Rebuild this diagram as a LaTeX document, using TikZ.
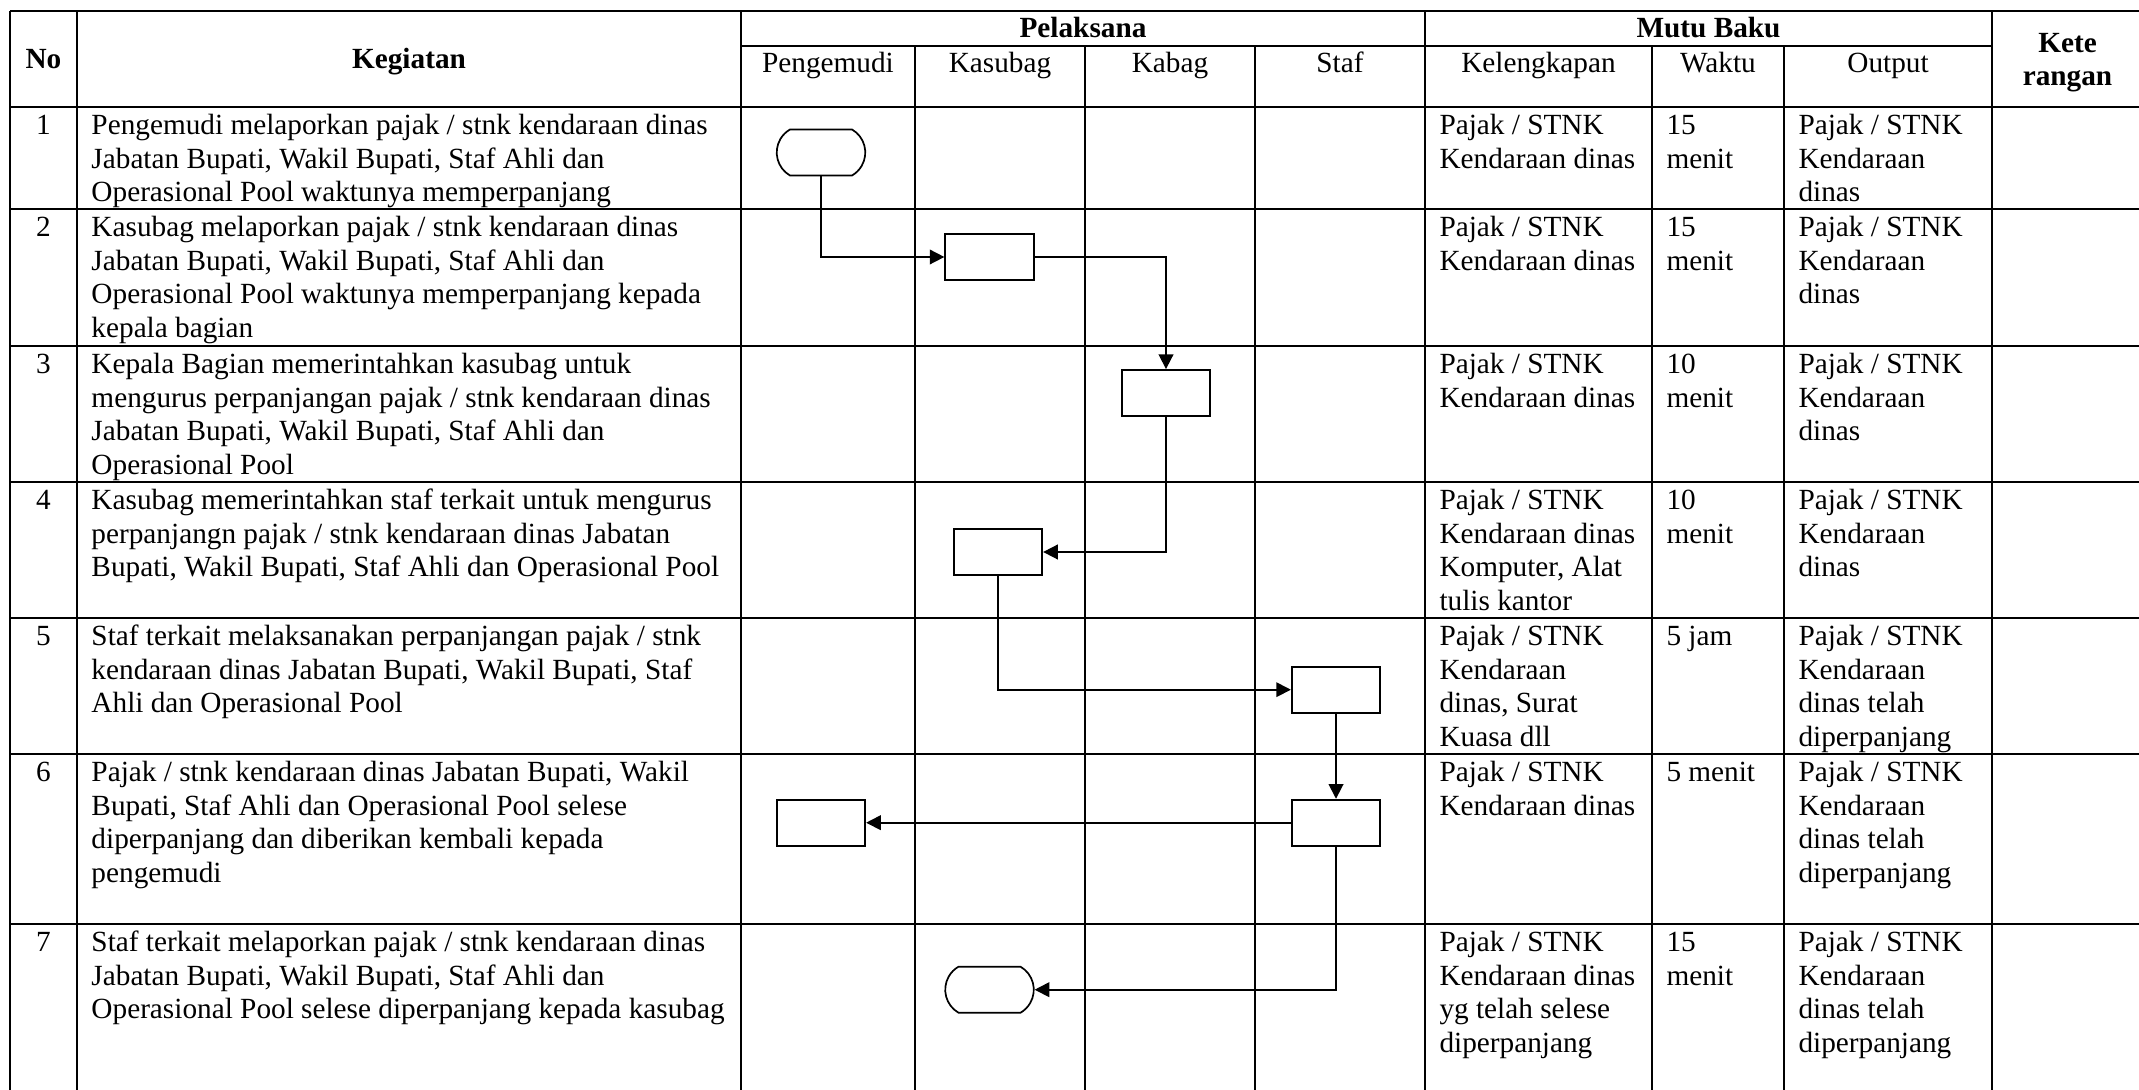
\documentclass[tikz,border=0pt]{standalone}
\usepackage{fontspec}
\setmainfont{Liberation Serif}
\usetikzlibrary{arrows.meta,shapes.misc}
\tikzstyle{garis} = [line width=1pt]
\tikzstyle{judul} = [font=\fontsize{12}{13.8}\selectfont\bfseries, inner sep=0, anchor=base]
\tikzstyle{kolom} = [font=\fontsize{12}{13.8}\selectfont, inner sep=0, anchor=base]
\tikzstyle{teks} = [font=\fontsize{12}{13.8}\selectfont, inner sep=0, anchor=north west, align=left]
\tikzstyle{nomor} = [font=\fontsize{12}{13.8}\selectfont, inner sep=0, anchor=north]
\tikzstyle{proses} = [rectangle, draw, line width=0.7pt, minimum width=36.3pt, minimum height=18.9pt, inner sep=0]
\tikzstyle{terminal} = [rounded rectangle, rounded rectangle arc length=120, draw, line width=0.7pt, minimum width=36.3pt, minimum height=18.9pt, inner sep=0]
\tikzstyle{arrow} = [line width=0.7pt,-{Triangle[length=6pt,width=6pt]}]

\begin{document}
\begin{tikzpicture}[x=0.41pt,y=-0.41pt]
    \useasboundingbox (0,0) rectangle (2139,1090);
    \clip (0,0) rectangle (2139,1090);
    % tabel
    \draw [garis] (10,11) -- (2150,11) (741,46) -- (1992,46);
    \draw [garis] (10,107) -- (2150,107) (10,209) -- (2150,209) (10,346) -- (2150,346) (10,482) -- (2150,482);
    \draw [garis] (10,618) -- (2150,618) (10,754) -- (2150,754) (10,924) -- (2150,924);
    \draw [garis] (10,11) -- (10,1100) (77,11) -- (77,1100) (741,11) -- (741,1100) (1425,11) -- (1425,1100) (1992,11) -- (1992,1100);
    \draw [garis] (915,46) -- (915,1100) (1085,46) -- (1085,1100) (1255,46) -- (1255,1100) (1652,46) -- (1652,1100) (1784,46) -- (1784,1100);

    % kepala tabel
    \node [judul] (no) at (43.5,69) {No};
    \node [judul] (keg) at (409,69) {Kegiatan};
    \node [judul] (pel) at (1083,38) {Pelaksana};
    \node [judul] (mutu) at (1708.5,38) {Mutu Baku};
    \node [judul, align=center, anchor=north] (ket) at (2067.5,28) {\strut Kete\\rangan};
    \node [kolom] (hpeng) at (828,73) {Pengemudi};
    \node [kolom] (hkasub) at (1000,73) {Kasubag};
    \node [kolom] (hkabag) at (1170,73) {Kabag};
    \node [kolom] (hstaf) at (1340,73) {Staf};
    \node [kolom] (hkel) at (1538.5,73) {Kelengkapan};
    \node [kolom] (hwkt) at (1718,73) {Waktu};
    \node [kolom] (hout) at (1888,73) {Output};

    % baris 1
    \node [nomor] (no1) at (43.5,110.5) {\strut 1};
    \node [teks] (keg1) at (91,110.5) {\strut Pengemudi melaporkan pajak / stnk kendaraan dinas\\Jabatan Bupati, Wakil Bupati, Staf Ahli dan\\Operasional Pool waktunya memperpanjang};
    \node [teks] (kel1) at (1439,110.5) {\strut Pajak / STNK\\Kendaraan dinas};
    \node [teks] (wkt1) at (1666,110.5) {\strut 15\\menit};
    \node [teks] (out1) at (1798,110.5) {\strut Pajak / STNK\\Kendaraan\\dinas};

    % baris 2
    \node [nomor] (no2) at (43.5,212.5) {\strut 2};
    \node [teks] (keg2) at (91,212.5) {\strut Kasubag melaporkan pajak / stnk kendaraan dinas\\Jabatan Bupati, Wakil Bupati, Staf Ahli dan\\Operasional Pool waktunya memperpanjang kepada\\kepala bagian};
    \node [teks] (kel2) at (1439,212.5) {\strut Pajak / STNK\\Kendaraan dinas};
    \node [teks] (wkt2) at (1666,212.5) {\strut 15\\menit};
    \node [teks] (out2) at (1798,212.5) {\strut Pajak / STNK\\Kendaraan\\dinas};

    % baris 3
    \node [nomor] (no3) at (43.5,349.5) {\strut 3};
    \node [teks] (keg3) at (91,349.5) {\strut Kepala Bagian memerintahkan kasubag untuk\\mengurus perpanjangan pajak / stnk kendaraan dinas\\Jabatan Bupati, Wakil Bupati, Staf Ahli dan\\Operasional Pool};
    \node [teks] (kel3) at (1439,349.5) {\strut Pajak / STNK\\Kendaraan dinas};
    \node [teks] (wkt3) at (1666,349.5) {\strut 10\\menit};
    \node [teks] (out3) at (1798,349.5) {\strut Pajak / STNK\\Kendaraan\\dinas};

    % baris 4
    \node [nomor] (no4) at (43.5,485.5) {\strut 4};
    \node [teks] (keg4) at (91,485.5) {\strut Kasubag memerintahkan staf terkait untuk mengurus\\perpanjangn pajak / stnk kendaraan dinas Jabatan\\Bupati, Wakil Bupati, Staf Ahli dan Operasional Pool};
    \node [teks] (kel4) at (1439,485.5) {\strut Pajak / STNK\\Kendaraan dinas\\Komputer, Alat\\tulis kantor};
    \node [teks] (wkt4) at (1666,485.5) {\strut 10\\menit};
    \node [teks] (out4) at (1798,485.5) {\strut Pajak / STNK\\Kendaraan\\dinas};

    % baris 5
    \node [nomor] (no5) at (43.5,621.5) {\strut 5};
    \node [teks] (keg5) at (91,621.5) {\strut Staf terkait melaksanakan perpanjangan pajak / stnk\\kendaraan dinas Jabatan Bupati, Wakil Bupati, Staf\\Ahli dan Operasional Pool};
    \node [teks] (kel5) at (1439,621.5) {\strut Pajak / STNK\\Kendaraan\\dinas, Surat\\Kuasa dll};
    \node [teks] (wkt5) at (1666,621.5) {\strut 5 jam};
    \node [teks] (out5) at (1798,621.5) {\strut Pajak / STNK\\Kendaraan\\dinas telah\\diperpanjang};

    % baris 6
    \node [nomor] (no6) at (43.5,757.5) {\strut 6};
    \node [teks] (keg6) at (91,757.5) {\strut Pajak / stnk kendaraan dinas Jabatan Bupati, Wakil\\Bupati, Staf Ahli dan Operasional Pool selese\\diperpanjang dan diberikan kembali kepada\\pengemudi};
    \node [teks] (kel6) at (1439,757.5) {\strut Pajak / STNK\\Kendaraan dinas};
    \node [teks] (wkt6) at (1666,757.5) {\strut 5 menit};
    \node [teks] (out6) at (1798,757.5) {\strut Pajak / STNK\\Kendaraan\\dinas telah\\diperpanjang};

    % baris 7
    \node [nomor] (no7) at (43.5,927.5) {\strut 7};
    \node [teks] (keg7) at (91,927.5) {\strut Staf terkait melaporkan pajak / stnk kendaraan dinas\\Jabatan Bupati, Wakil Bupati, Staf Ahli dan\\Operasional Pool selese diperpanjang kepada kasubag};
    \node [teks] (kel7) at (1439,927.5) {\strut Pajak / STNK\\Kendaraan dinas\\yg telah selese\\diperpanjang};
    \node [teks] (wkt7) at (1666,927.5) {\strut 15\\menit};
    \node [teks] (out7) at (1798,927.5) {\strut Pajak / STNK\\Kendaraan\\dinas telah\\diperpanjang};

    % alur
    \node [terminal] (mulai) at (821,152.5) {};
    \node [proses] (lapor) at (989.5,257) {};
    \node [proses] (perintah) at (1166,393) {};
    \node [proses] (urus) at (998,552) {};
    \node [proses] (laksana) at (1336,689.7) {};
    \node [proses] (selesai) at (1336,822.7) {};
    \node [proses] (kembali) at (821,822.7) {};
    \node [terminal] (akhir) at (989.5,989.7) {};

    \draw [arrow] (mulai.south) |- (lapor.west);
    \draw [arrow] (lapor.east) -| (perintah.north);
    \draw [arrow] (perintah.south) |- (urus.east);
    \draw [arrow] (urus.south) |- (laksana.west);
    \draw [arrow] (laksana.south) -- (selesai.north);
    \draw [arrow] (selesai.west) -- (kembali.east);
    \draw [arrow] (selesai.south) |- (akhir.east);
\end{tikzpicture}
\end{document}
